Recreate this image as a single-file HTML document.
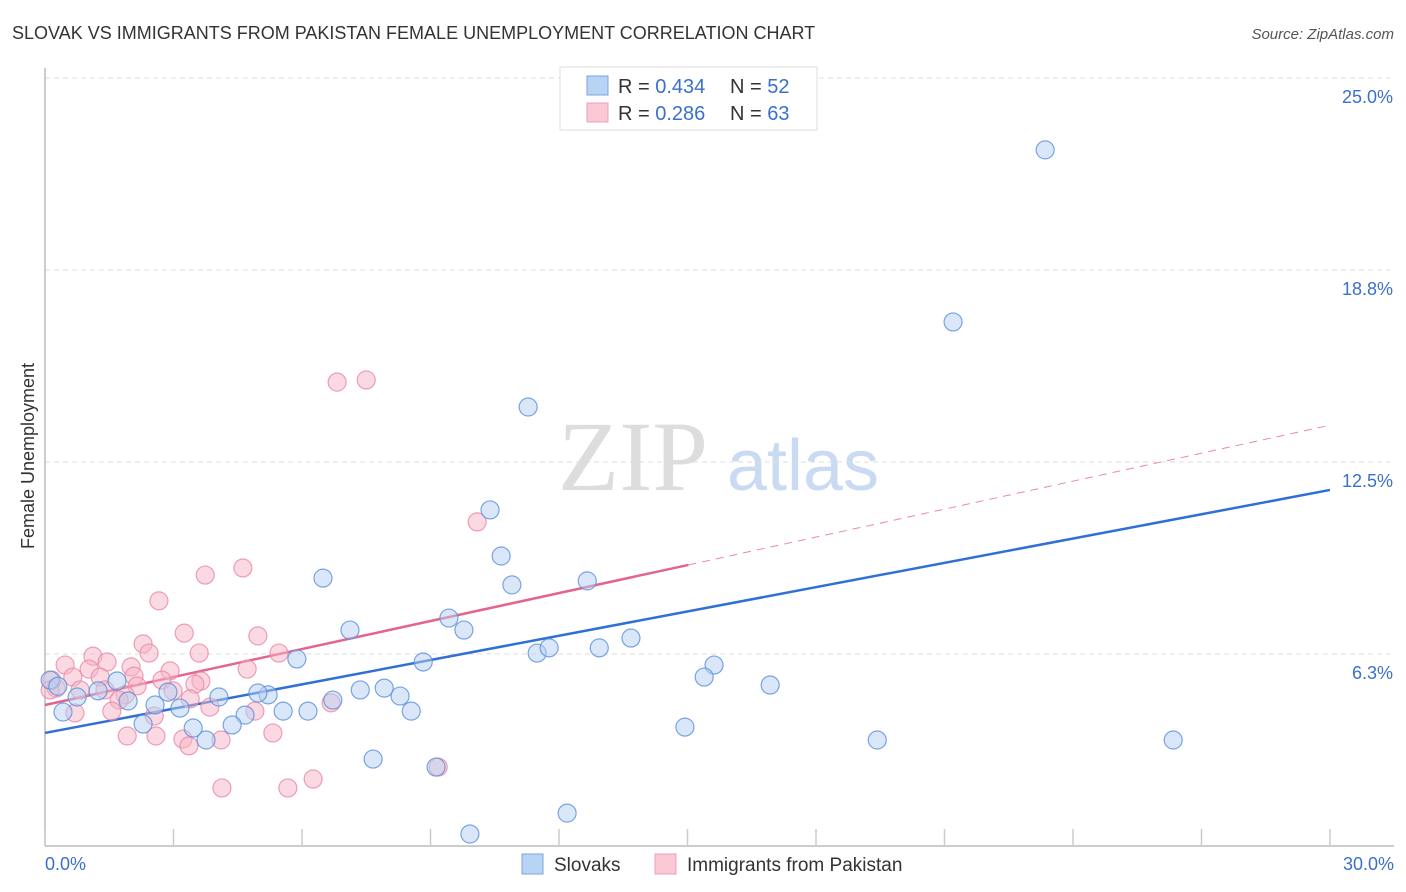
<!DOCTYPE html>
<html><head><meta charset="utf-8"><style>
body{margin:0;background:#fff;}
svg{display:block;font-family:"Liberation Sans",sans-serif;}
</style></head><body>
<svg id="chart" width="1406" height="892">
<text x="12" y="39" font-size="18" fill="#333">SLOVAK VS IMMIGRANTS FROM PAKISTAN FEMALE UNEMPLOYMENT CORRELATION CHART</text>
<text x="1394" y="39" font-size="15" fill="#555" font-style="italic" text-anchor="end">Source: ZipAtlas.com</text>
<text x="34" y="456" font-size="18" fill="#333" text-anchor="middle" transform="rotate(-90 34 456)">Female Unemployment</text>
<g>
<text x="633" y="490" font-size="100" fill="#ddd" font-family="Liberation Serif,serif" text-anchor="middle">ZIP</text>
<text x="803" y="490" font-size="72" fill="#c9daf2" text-anchor="middle">atlas</text>
</g>
<g id="grid"></g>
<g id="axes"></g>
<g id="lines"></g>
<g id="points"></g>
<g>
<rect x="560" y="67" width="257" height="63" fill="#fff" stroke="#ddd"/>
<rect x="587" y="76" width="21" height="19" fill="#b8d3f4" stroke="#7aa6e0"/>
<text x="618" y="93" font-size="20" fill="#333">R = <tspan fill="#3a70cc">0.434</tspan></text>
<text x="730" y="93" font-size="20" fill="#333">N = <tspan fill="#3a70cc">52</tspan></text>
<rect x="587" y="103" width="21" height="19" fill="#fbc8d6" stroke="#eda0b8"/>
<text x="618" y="120" font-size="20" fill="#333">R = <tspan fill="#3a70cc"> 0.286</tspan></text>
<text x="730" y="120" font-size="20" fill="#333">N = <tspan fill="#3a70cc">63</tspan></text>
</g>
<g>
<rect x="522" y="854" width="21" height="20" fill="#b8d3f4" stroke="#7aa6e0"/>
<text x="554" y="871" font-size="19" fill="#333">Slovaks</text>
<rect x="655" y="854" width="21" height="20" fill="#fbc8d6" stroke="#eda0b8"/>
<text x="687" y="871" font-size="19" fill="#333">Immigrants from Pakistan</text>
</g>
</svg>
<script>
const yTicks=[6.25,12.5,18.75,25];
const yTickLabels=["6.3%","12.5%","18.8%","25.0%"];
const xTickVals=[0,3,6,9,12,15,18,21,24,27,30];
const slovakX=[23.35,21.20,11.28,10.39,10.65,10.90,12.66,6.49,9.43,9.78,7.12,13.68,11.49,11.77,12.94,15.62,15.39,16.93,8.83,5.88,7.36,7.92,8.29,8.55,6.72,6.14,5.56,5.21,4.97,4.67,4.37,4.06,3.76,3.46,3.15,2.87,2.57,2.29,1.94,1.68,1.24,0.75,0.42,0.12,14.94,19.43,26.34,7.66,9.13,12.19,9.92,0.30];
const slovakY=[22.66,17.06,14.29,10.94,9.44,8.50,8.63,8.72,7.42,7.03,7.03,6.77,6.28,6.45,6.45,5.89,5.50,5.24,5.99,6.09,5.08,5.14,4.88,4.39,4.75,4.39,4.39,4.92,4.98,4.26,3.94,4.85,3.45,3.84,4.49,5.01,4.59,3.97,4.72,5.37,5.05,4.85,4.36,5.40,3.87,3.45,3.45,2.83,2.57,1.07,0.39,5.2];
const pakX=[6.82,7.50,10.09,4.62,3.74,2.66,3.25,4.97,2.29,2.43,3.60,5.46,1.12,1.45,0.47,1.03,2.01,2.92,4.72,0.65,1.29,2.08,2.73,3.64,3.50,2.15,0.26,0.82,1.40,1.87,2.99,3.39,3.85,1.73,1.56,0.70,2.55,4.90,6.68,1.92,2.59,3.22,3.36,4.11,5.32,9.18,6.26,5.67,4.13,0.16,0.12];
const pakY=[15.10,15.17,10.55,9.05,8.82,7.98,6.93,6.84,6.58,6.28,6.28,6.28,6.18,5.99,5.89,5.76,5.83,5.70,5.76,5.50,5.50,5.53,5.40,5.37,5.27,5.21,5.14,5.08,5.08,4.92,5.05,4.79,4.52,4.75,4.39,4.33,4.23,4.39,4.66,3.58,3.58,3.48,3.26,3.45,3.68,2.57,2.18,1.89,1.89,5.40,5.08];
const slovakTrend=[3.68,11.59];   // y at x=0, y at x=30
const pakTrend=[4.59,0.3036];     // intercept, slope
const pakSolidEnd=15.02;
const NS="http://www.w3.org/2000/svg";
const X=v=>45+v/30*1285, Y=v=>846-v*30.72;
function mk(tag,attrs,parent){const e=document.createElementNS(NS,tag);for(const k in attrs)e.setAttribute(k,attrs[k]);document.getElementById(parent).appendChild(e);return e;}
yTicks.forEach((t,i)=>{
 const l=mk('line',{x1:45,x2:1394,y1:Y(t),y2:Y(t),stroke:'#ddd','stroke-dasharray':'5,4'},'grid');
 
 
 const tx=mk('text',{x:1393,y:Y(t)+25,'font-size':18,fill:'#3a70cc','text-anchor':'end'},'grid');
 tx.textContent=yTickLabels[i];
 
 
});
const ax=mk('line',{x1:45,x2:45,y1:68,y2:846,stroke:'#bbb','stroke-width':1.5},'axes');


const bx=mk('line',{x1:45,x2:1394,y1:846,y2:846,stroke:'#bbb','stroke-width':1.5},'axes');


xTickVals.forEach(v=>{
 const t=mk('line',{x1:X(v),x2:X(v),y1:829,y2:846,stroke:'#ccc','stroke-width':1.5},'axes');
 
 
});
const xl0=mk('text',{x:45,y:870,'font-size':18,fill:'#3a70cc'},'axes');xl0.textContent='0.0%';


const xl1=mk('text',{x:1394,y:870,'font-size':18,fill:'#3a70cc','text-anchor':'end'},'axes');xl1.textContent='30.0%';


function dot(x,y,fill,stroke,name){const c=mk('circle',{cx:X(x),cy:Y(y),r:9,fill:fill,'fill-opacity':0.5,stroke:stroke,'stroke-opacity':0.8,'stroke-width':1.2},'points');
 
 }
pakX.forEach((x,i)=>dot(x,pakY[i],'#f7b3c6','#e888a6','pakistan-point'));
slovakX.forEach((x,i)=>dot(x,slovakY[i],'#b5d0f2','#5a8fdc','slovak-point'));
const bl=mk('line',{x1:X(0),y1:Y(slovakTrend[0]),x2:X(30),y2:Y(slovakTrend[1]),stroke:'#2f6fd6','stroke-width':2.5},'lines');


const pl=mk('line',{x1:X(0),y1:Y(pakTrend[0]),x2:X(pakSolidEnd),y2:Y(pakTrend[0]+pakTrend[1]*pakSolidEnd),stroke:'#e4648e','stroke-width':2.5},'lines');


const pd=mk('line',{x1:X(pakSolidEnd),y1:Y(pakTrend[0]+pakTrend[1]*pakSolidEnd),x2:X(30),y2:Y(pakTrend[0]+pakTrend[1]*30),stroke:'#e88aa5','stroke-width':1,'stroke-dasharray':'8,6'},'lines');


</script>
</body></html>
